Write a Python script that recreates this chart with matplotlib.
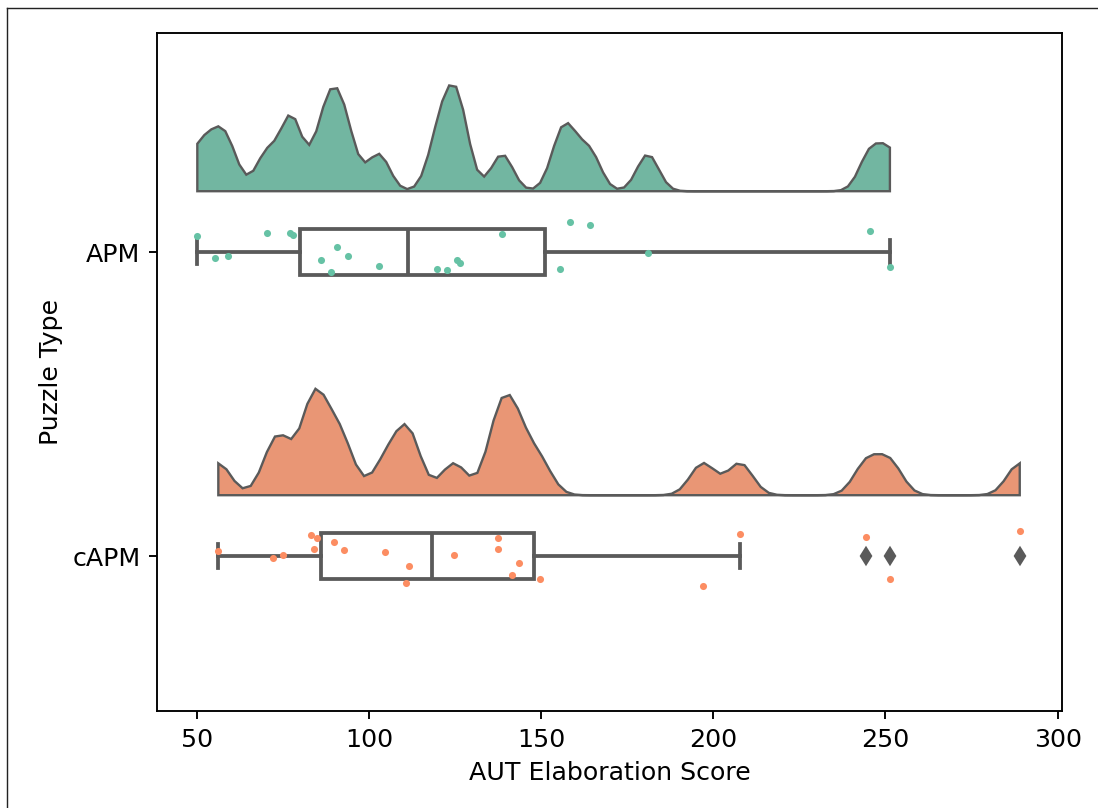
import colorsys
import numpy as np
import matplotlib
matplotlib.use("Agg")
import matplotlib.pyplot as plt
from matplotlib.lines import Line2D

# scores, with the vertical jitter of each rain drop
groups = ["APM", "cAPM"]
apm_scores = [50.2, 55.3, 59.2, 70.3, 77.1, 77.9, 86.1, 89.0, 90.9, 93.9, 102.9,
              119.8, 122.7, 125.6, 126.6, 138.7, 155.4, 158.4, 164.3, 181.0, 245.5, 251.3]
apm_jitter = [-0.054, 0.019, 0.012, -0.064, -0.061, -0.056, 0.027, 0.067, -0.018, 0.012, 0.045,
              0.056, 0.059, 0.026, 0.037, -0.060, 0.056, -0.100, -0.088, 0.004, -0.069, 0.050]
capm_scores = [56.3, 72.1, 75.0, 83.1, 84.0, 85.0, 90.0, 92.9, 104.8, 110.8, 111.8,
               124.7, 137.6, 137.6, 141.6, 143.5, 149.6, 197.0, 207.8, 244.5, 251.3, 289.0]
capm_jitter = [-0.017, 0.006, -0.003, -0.069, -0.023, -0.058, -0.047, -0.019, -0.014, 0.090, 0.034,
               -0.004, -0.058, -0.024, 0.062, 0.024, 0.075, 0.099, -0.072, -0.062, 0.076, -0.082]

palette = ["#66c2a5", "#fc8d62"]  # Set2
gray = "#5a5a5a"

plt.rcParams["font.size"] = 10.7


def desaturate(color, prop):
    r, g, b = matplotlib.colors.to_rgb(color)
    h, l, s = colorsys.rgb_to_hls(r, g, b)
    return colorsys.hls_to_rgb(h, l, s * prop)


def kde_curve(x, factor=0.057, n=100):
    x = np.asarray(x)
    grid = np.linspace(x.min(), x.max(), n)
    bw = factor * x.std(ddof=1)
    d = np.exp(-0.5 * ((grid[:, None] - x[None, :]) / bw) ** 2).sum(1)
    return grid, d / (len(x) * bw * np.sqrt(2 * np.pi))


all_scores = [apm_scores, capm_scores]
all_jitter = [apm_jitter, capm_jitter]

fig = plt.figure(figsize=(1098 / 170, 808 / 170), dpi=170)
ax = fig.add_axes([0.143, 0.120, 0.824, 0.839])

curves = [kde_curve(s) for s in all_scores]
dmax = max(d.max() for _, d in curves)
for i, (grid, dens) in enumerate(curves):
    base = i - 0.2
    xs = np.concatenate([[grid[0]], grid, [grid[-1]]])
    ys = np.concatenate([[base], base - dens / dmax * 0.35, [base]])
    ax.fill(xs, ys, facecolor=desaturate(palette[i], 0.75), edgecolor=gray, linewidth=1.0, zorder=1)

ax.boxplot(all_scores, positions=[0, 1], orientation="horizontal", widths=0.15,
           patch_artist=True, manage_ticks=False,
           boxprops=dict(facecolor="none", edgecolor=gray, linewidth=1.6),
           whiskerprops=dict(color=gray, linewidth=1.6),
           capprops=dict(color=gray, linewidth=1.6),
           medianprops=dict(color=gray, linewidth=1.6),
           flierprops=dict(marker="d", markerfacecolor=gray, markeredgecolor=gray, markersize=5),
           capwidths=0.08, zorder=2)

for i, (s, j) in enumerate(zip(all_scores, all_jitter)):
    ax.scatter(s, i + np.asarray(j), s=9, color=palette[i], linewidths=0, zorder=3)

ax.set_yticks([0, 1])
ax.set_yticklabels(groups)
ax.set_ylim(1.51, -0.72)
ax.set_xlim(38.5, 301.2)
ax.set_xlabel("AUT Elaboration Score")
ax.set_ylabel("Puzzle Type")

# frame of the screenshot
fig.add_artist(Line2D([7 / 1098, 1], [1 - 8 / 808, 1 - 8 / 808], transform=fig.transFigure, color="#222222", linewidth=0.6))
fig.add_artist(Line2D([7 / 1098, 7 / 1098], [0, 1 - 8 / 808], transform=fig.transFigure, color="#222222", linewidth=0.6))

fig.savefig("out.png", dpi=170)
